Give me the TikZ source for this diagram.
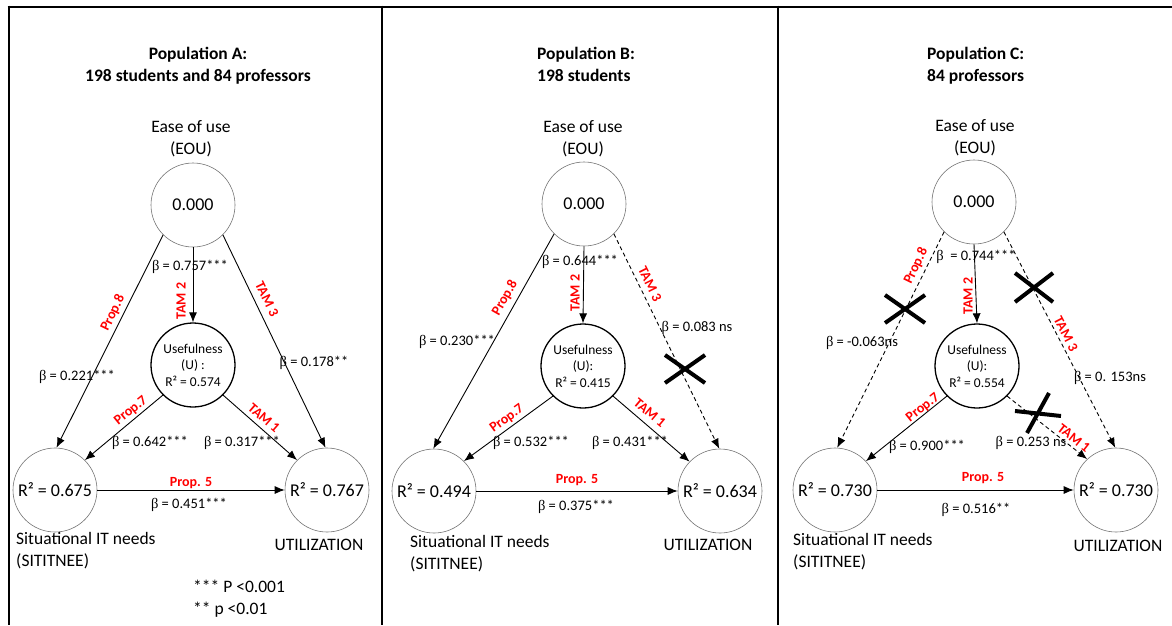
\documentclass[tikz,border=0pt]{standalone}
\usepackage{fontspec}
\setmainfont{Carlito}
\newfontfamily\betafont{Liberation Serif}
\usetikzlibrary{arrows.meta}
\newcommand\bt{{\betafont β}}
\begin{document}
\begin{tikzpicture}[x=1pt,y=-1pt,
  frame/.style={line width=2.6pt},
  cnode/.style={circle, draw=black!55, line width=0.6pt, minimum size=84pt, inner sep=0pt, font=\fontsize{18}{22}\selectfont},
  unode/.style={circle, draw=black, line width=1.3pt, minimum size=84pt, inner sep=0pt, align=center, font=\fontsize{13.5}{16.5}\selectfont},
  lbl/.style={align=center, font=\fontsize{17.5}{22}\selectfont, inner sep=0pt},
  lbll/.style={align=left, anchor=west, font=\fontsize{17.5}{22}\selectfont, inner sep=0pt},
  ttl/.style={align=center, font=\fontsize{17.5}{22}\selectfont\bfseries, inner sep=0pt},
  ttll/.style={align=left, anchor=west, font=\fontsize{17.5}{22}\selectfont\bfseries, inner sep=0pt},
  beta/.style={font=\fontsize{14.5}{17}\selectfont, inner sep=0pt},
  prop/.style={text=red, font=\fontsize{14}{17}\selectfont\bfseries, inner sep=0pt},
  arr/.style={-{Latex[length=10pt,width=8pt]}, line width=0.9pt},
  darr/.style={arr, dash pattern=on 4pt off 3pt},
  cross/.style={line width=4pt},
]
\useasboundingbox (0,0) rectangle (1172,625);
% frame
\draw[frame] (7.7,7) -- (1172,7);
\draw[frame] (9,5.7) -- (9,625);
\draw[frame] (382,5.7) -- (382,625);
\draw[frame] (778,5.7) -- (778,625);

% ---------------- Panel A ----------------
\node[ttl] (tA) at (198,66) {Population A:\\198 students and 84 professors};
\node[lbl] (eA) at (191,139) {Ease of use\\(EOU)};
\node[cnode] (eouA) at (193,205) {0.000};
\node[unode] (uA) at (193,365) {Usefulness\\(U) :\\R² = 0.574};
\node[cnode] (sitA) at (55,490) {R² = 0.675};
\node[cnode] (utilA) at (327,490) {R² = 0.767};
\node[lbll] (sA) at (16,551) {Situational IT needs\\(SITITNEE)};
\node[lbl] (zA) at (319,545) {UTILIZATION};
\node[lbll] (legA) at (193,599) {*** P <0.001\\** p <0.01};

\draw[arr] (eouA.270) -- (uA.90);
\draw[arr] (eouA.225) -- (sitA.88);
\draw[arr] (eouA.315) -- (utilA.92);
\draw[arr] (uA.225) -- (sitA.45);
\draw[arr] (uA.315) -- (utilA.135);
\draw[arr] (sitA.0) -- (utilA.180);

\node[beta] (bA1) at (190,267) {\bt{} = 0.757***};
\node[prop, rotate=90] (pA1) at (181,301) {TAM 2};
\node[prop, rotate=-64] (pA2) at (267,299) {TAM 3};
\node[prop, rotate=64] (pA3) at (113,313) {Prop.8};
\node[beta] (bA2) at (77,377) {\bt{} = 0.221***};
\node[beta] (bA3) at (314,363) {\bt{} = 0.178**};
\node[prop, rotate=39] (pA4) at (131,411) {Prop.7};
\node[prop, rotate=-41] (pA5) at (264,418) {TAM 1};
\node[beta] (bA4) at (150,443) {\bt{} = 0.642***};
\node[beta] (bA5) at (242,443) {\bt{} = 0.317***};
\node[prop] (pA6) at (191,483) {Prop. 5};
\node[beta] (bA6) at (189,505) {\bt{} = 0.451***};

% ---------------- Panel B ----------------
\node[ttll] (tB) at (537,64) {Population B:\\198 students};
\node[lbl] (eB) at (583,139) {Ease of use\\(EOU)};
\node[cnode] (eouB) at (584,204) {0.000};
\node[unode] (uB) at (583,366) {Usefulness\\(U):\\R² = 0.415};
\node[cnode] (sitB) at (434,491) {R² = 0.494};
\node[cnode] (utilB) at (720,491) {R² = 0.634};
\node[lbll] (sB) at (410,554) {Situational IT needs\\(SITITNEE)};
\node[lbl] (zB) at (708,545) {UTILIZATION};

\draw[arr] (eouB.270) -- (uB.90);
\draw[arr] (eouB.225) -- (sitB.91);
\draw[darr] (eouB.315) -- (utilB.91);
\draw[arr] (uB.225) -- (sitB.45);
\draw[arr] (uB.315) -- (utilB.136);
\draw[arr] (sitB.0) -- (utilB.180);

\node[beta] (bB1) at (580,262) {\bt{} = 0.644***};
\node[prop, rotate=90] (pB1) at (575,293) {TAM 2};
\node[prop, rotate=-63.6] (pB2) at (650,284) {TAM 3};
\node[prop, rotate=60.5] (pB3) at (505,298) {Prop.8};
\node[beta] (bB2) at (457,342) {\bt{} = 0.230***};
\node[beta] (bB3) at (697,328) {\bt{} = 0.083 ns};
\node[prop, rotate=36] (pB4) at (507,419) {Prop.7};
\node[prop, rotate=-40] (pB5) at (650,413) {TAM 1};
\node[beta] (bB4) at (531,443) {\bt{} = 0.532***};
\node[beta] (bB5) at (630,443) {\bt{} = 0.431***};
\node[prop] (pB6) at (577,480) {Prop. 5};
\node[beta] (bB6) at (576,507) {\bt{} = 0.375***};
\draw[cross] (665,355) -- (705,383) (665,383) -- (705,355);

% ---------------- Panel C ----------------
\node[ttll] (tC) at (927,66) {Population C:\\84 professors};
\node[lbl] (eC) at (975,138) {Ease of use\\(EOU)};
\node[cnode] (eouC) at (974,202) {0.000};
\node[unode] (uC) at (977,366) {Usefulness\\(U):\\R² = 0.554};
\node[cnode] (sitC) at (835,490) {R² = 0.730};
\node[cnode] (utilC) at (1116,490) {R² = 0.730};
\node[lbll] (sC) at (793,552) {Situational IT needs\\(SITITNEE)};
\node[lbl] (zC) at (1118,546) {UTILIZATION};

\draw[arr] (eouC.270) -- (uC.90);
\draw[darr] (eouC.225) -- (sitC.87);
\draw[darr] (eouC.315) -- (utilC.91);
\draw[arr] (uC.225) -- (sitC.43);
\draw[darr] (uC.315) -- (utilC.133);
\draw[arr] (sitC.0) -- (utilC.180);

\node[beta] (bC1) at (976,257) {\bt{}\ \ = 0.744***};
\node[prop, rotate=90] (pC1) at (968,296) {TAM 2};
\node[prop, rotate=-62.5] (pC2) at (1066,334) {TAM 3};
\node[prop, rotate=64] (pC3) at (916,266) {Prop.8};
\node[beta] (bC2) at (862,343) {\bt{} = -0.063ns};
\node[beta] (bC3) at (1110,378) {\bt{} = 0. 153ns};
\node[prop, rotate=38.5] (pC4) at (923,408) {Prop.7};
\node[prop, rotate=-38] (pC5) at (1074,438) {TAM 1};
\node[beta] (bC4) at (927,447) {\bt{} = 0.900***};
\node[beta] (bC5) at (1031,443) {\bt{} = 0.253 ns};
\node[prop] (pC6) at (983,478) {Prop. 5};
\node[beta] (bC6) at (976,510) {\bt{} = 0.516**};
\draw[cross] (885,295) -- (925,323) (885,323) -- (925,295);
\draw[cross] (1015,273) -- (1053,302) (1015,302) -- (1053,273);
\draw[cross] (1015,411) -- (1061,416) (1049,393) -- (1027,433);
\end{tikzpicture}
\end{document}
